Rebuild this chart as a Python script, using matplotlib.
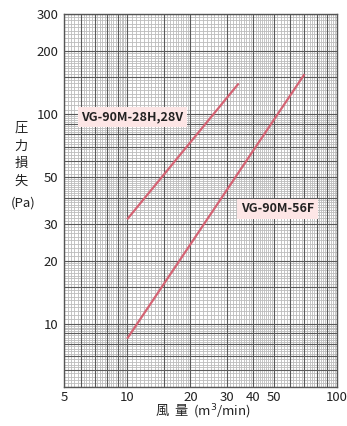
import numpy as np
import matplotlib
matplotlib.use("Agg")
import matplotlib.pyplot as plt

plt.rcParams['font.family'] = ['Noto Sans CJK JP', 'DejaVu Sans']

# Pressure-loss curves (airflow m3/min -> pressure loss Pa)
flow_28 = [10, 34]
loss_28 = [31.5, 140]
flow_56 = [10, 70]
loss_56 = [8.5, 155]

x_ticks = [5, 10, 20, 30, 40, 50, 100]
y_ticks = [10, 20, 30, 50, 100, 200, 300]

line_color = '#d46474'
box_color = '#fde6e6'

fig = plt.figure(figsize=(3.47, 4.26), dpi=100)
ax = fig.add_axes([64/347, 1-387/426, (337-64)/347, (387-14)/426])
ax.set_xscale('log')
ax.set_yscale('log')
ax.set_xlim(5, 100)
ax.set_ylim(5, 300)

# Log-paper grid: light fine lines plus darker lines on round values
def grid_values(segments):
    vals = []
    for a, b, s in segments:
        vals.extend(np.arange(a, b + 1e-9, s))
    return sorted(set(np.round(vals, 4)))

x_fine = grid_values([(5, 10, 0.2), (10, 20, 0.5), (20, 50, 1), (50, 100, 2)])
x_bold = [5, 6, 7, 8, 9, 10, 15, 20, 30, 40, 50, 60, 70, 80, 90, 100]
y_fine = grid_values([(5, 10, 0.2), (10, 20, 0.5), (20, 50, 1), (50, 100, 2),
                      (100, 200, 5), (200, 300, 10)])
y_bold = [5, 6, 7, 8, 9, 10, 15, 20, 30, 40, 50, 60, 70, 80, 90, 100, 150, 200, 300]

for v in x_fine:
    ax.axvline(v, color='#bcbcbc', lw=0.6, zorder=1)
for v in y_fine:
    ax.axhline(v, color='#bcbcbc', lw=0.6, zorder=1)
for v in x_bold:
    ax.axvline(v, color='#5a5a5a', lw=0.8, zorder=1.5)
for v in y_bold:
    ax.axhline(v, color='#5a5a5a', lw=0.8, zorder=1.5)

ax.plot(flow_28, loss_28, color=line_color, lw=1.6, zorder=3, solid_capstyle='butt')
ax.plot(flow_56, loss_56, color=line_color, lw=1.6, zorder=3, solid_capstyle='butt')

ax.text(10.6, 97, 'VG-90M-28H,28V', fontsize=9.0, fontweight='bold', color='#222222',
        ha='center', va='center', zorder=4,
        bbox=dict(boxstyle='square,pad=0.3', fc=box_color, ec='none'))
ax.text(52, 35.3, 'VG-90M-56F', fontsize=9.0, fontweight='bold', color='#222222',
        ha='center', va='center', zorder=4,
        bbox=dict(boxstyle='square,pad=0.3', fc=box_color, ec='none'))

ax.set_xticks(x_ticks)
ax.set_xticklabels([str(v) for v in x_ticks])
ax.set_yticks(y_ticks)
ax.set_yticklabels([str(v) for v in y_ticks])
ax.xaxis.set_minor_locator(matplotlib.ticker.NullLocator())
ax.yaxis.set_minor_locator(matplotlib.ticker.NullLocator())
ax.tick_params(axis='both', length=0, labelsize=9.5, colors='#222222')
ax.tick_params(axis='x', pad=3)
ax.tick_params(axis='y', pad=4)

for s in ax.spines.values():
    s.set_color('#555555')
    s.set_linewidth(1.0)
    s.set_zorder(5)

# Axis titles
for ch, yp in zip('圧力損失', [128, 146, 163, 181]):
    fig.text(21/347, 1-yp/426, ch, fontsize=9.5, ha='center', va='center', color='#222222')
fig.text(23/347, 1-203/426, '(Pa)', fontsize=9.5, ha='center', va='center', color='#222222')
fig.text(203/347, 1-412/426, '風  量  (m$^3$/min)', fontsize=9.5, ha='center', va='center',
         color='#222222')

fig.savefig('out.png', dpi=100)
